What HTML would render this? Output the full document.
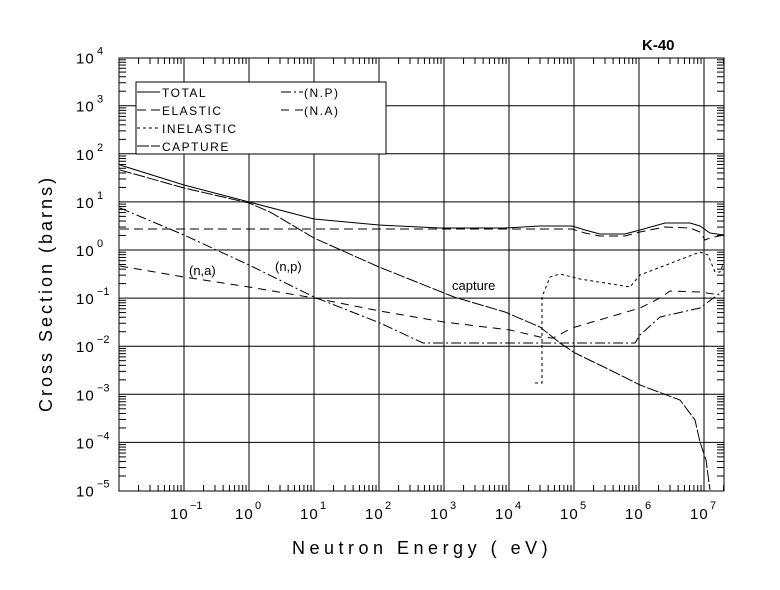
<!DOCTYPE html>
<html><head><meta charset="utf-8"><style>
html,body{margin:0;padding:0;background:#fff;}
svg{display:block;font-family:"Liberation Sans",sans-serif;}
</style></head><body>
<svg id="s" width="780" height="590" viewBox="0 0 780 590" xmlns="http://www.w3.org/2000/svg">
<rect width="780" height="590" fill="#fff"/>
<g id="grid" stroke="#000" stroke-width="1" fill="none"></g>
<g id="curves" fill="none" stroke="#000" stroke-width="1"></g>
<g id="txt" fill="#000" font-size="15"></g>
</svg>
<script>
var L=119,R=724,T=58,B=491,X0=184,DX=65,Y0=250,DY=48.1;
var ns="http://www.w3.org/2000/svg";
function el(p,t,a,txt){var e=document.createElementNS(ns,t);for(var k in a)e.setAttribute(k,a[k]);if(txt!=null)e.textContent=txt;document.getElementById(p).appendChild(e);return e;}
function ln(x1,y1,x2,y2){el("grid","line",{x1:x1,y1:y1,x2:x2,y2:y2});}
el("grid","rect",{x:L,y:T,width:R-L,height:B-T});
for(var d=-1;d<=7;d++){var x=X0+(d+1)*DX;ln(x,T,x,B);}
for(var d=-4;d<=3;d++){var y=Y0-d*DY;ln(L,y,R,y);}
for(var d=-2;d<=7;d++){for(var m=2;m<=9;m++){var x=X0+(d+1+Math.log10(m))*DX;if(x>L&&x<R){ln(x,T,x,T+6);ln(x,B,x,B-6);}}}
for(var d=-5;d<=3;d++){for(var m=2;m<=9;m++){var y=Y0-(d+Math.log10(m))*DY;ln(L,y,L+7,y);ln(R,y,R-7,y);}}
function pl(pts,dash){var a={points:pts};if(dash)a["stroke-dasharray"]=dash;el("curves","polyline",a);}
pl("120,165 184,185 249,202 314,219 379,225 440,228 505,228 540,226 572,226 585,230 600,234 625,234 640,230 665,223 690,223 700,226 710,233 724,235");
pl("120,229 540,229 572,229 585,233 600,236 625,236 640,232 665,227 690,228 700,232 705,240 710,238 724,235","9,5");
pl("120,170 184,188 249,203 270,212 314,238 379,267 454,297 505,312 540,327 560,343 575,353 610,370 640,385 680,400 695,420 700,442 706,460 710,490","12,2");
pl("120,208 184,235 249,265 314,297 380,323 423,343 635,343 640,335 660,317 700,308 724,290","10,3,2,3");
pl("120,266 184,277 249,287 314,298 380,311 444,322 510,330 540,337 553,338 572,328 640,308 660,298 670,291 700,292 720,295","8,6");
pl("535,383 542,383 542,297 550,277 560,274 580,279 630,287 640,275 700,252 708,255 715,272 720,272 724,262","3,3");
el("txt","rect",{x:136,y:82,width:250,height:72,fill:"#fff",stroke:"#000"});
var lg=[[92,"TOTAL",null],[110,"ELASTIC","9,5"],[128,"INELASTIC","3,3"],[146,"CAPTURE","12,2"]];
lg.forEach(function(e){var a={x1:137,y1:e[0],x2:160,y2:e[0],stroke:"#000"};if(e[2])a["stroke-dasharray"]=e[2];el("txt","line",a);el("txt","text",{x:162,y:e[0]+5,"font-size":12,"letter-spacing":"1.5"},e[1]);});
[[92,"(N.P)","10,3,2,3"],[110,"(N.A)","8,6"]].forEach(function(e){el("txt","line",{x1:281,y1:e[0],x2:303,y2:e[0],stroke:"#000","stroke-dasharray":e[2]});el("txt","text",{x:304,y:e[0]+5,"font-size":12,"letter-spacing":"1.5"},e[1]);});
for(var d=-5;d<=4;d++){var y=Y0-d*DY;el("txt","text",{x:76,y:y+6,"font-size":15,"letter-spacing":"1"},"10");el("txt","text",{x:97,y:y-3,"font-size":11},String(d).replace("-","\u2212"));}
for(var d=-1;d<=7;d++){var x=X0+(d+1)*DX;el("txt","text",{x:x-14,y:519,"font-size":15,"letter-spacing":"1"},"10");el("txt","text",{x:x+6,y:509,"font-size":11},String(d).replace("-","\u2212"));}
el("txt","text",{x:292,y:554,"font-size":18,"letter-spacing":"4.5"},"Neutron Energy ( eV)");
el("txt","text",{x:0,y:0,"font-size":18,"letter-spacing":"3",transform:"translate(52,412) rotate(-90)"},"Cross Section (barns)");
el("txt","text",{x:642,y:50,"font-size":15,"font-weight":"bold"},"K-40");
el("txt","text",{x:189,y:275,"font-size":13},"(n,a)");
el("txt","text",{x:275,y:271,"font-size":13},"(n,p)");
el("txt","text",{x:452,y:290,"font-size":13},"capture");
</script>
</body></html>
